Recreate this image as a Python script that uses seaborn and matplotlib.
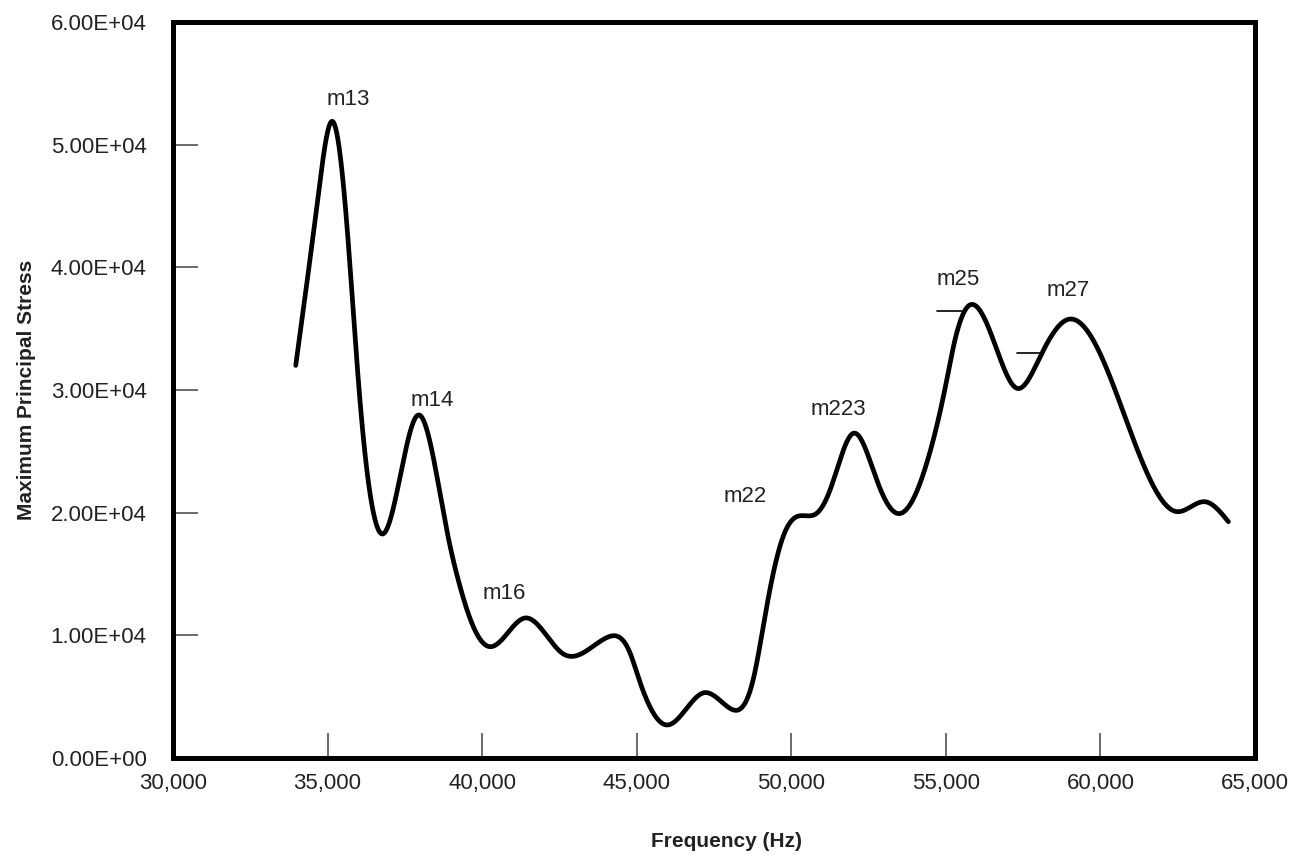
import numpy as np
import pandas as pd
import matplotlib
matplotlib.use("Agg")
import matplotlib.pyplot as plt
import seaborn as sns

# values
freq = [33970, 34680, 35150, 35620, 36020, 36780, 37935, 38855, 39285, 39715,
        40255, 41385, 42625, 44030, 44785, 45045, 45970, 47180, 47965, 48765,
        49205, 49735, 50175, 50825, 51255, 52010, 52765, 53410, 54380, 55030,
        55245, 55730, 56535, 57295, 58050, 58965, 59880, 60635, 61285, 62470,
        63385, 64140]
stress = [32000, 45500, 51900, 43600, 30000, 18260, 27960, 18590, 13970, 10700,
          9070, 11410, 8480, 9810, 8560, 6630, 2690, 5320, 4130, 6360,
          12330, 18040, 19670, 19950, 21850, 26470, 22660, 19950, 24020, 30820,
          33530, 36850, 34080, 30140, 32710, 35760, 33530, 28920, 24560, 20080,
          20890, 19260]

mode_names = ["m13", "m14", "m16", "m22", "m223", "m25", "m27"]
mode_x = [35670, 38370, 40710, 48500, 51520, 55400, 58960]
mode_y = [53640, 29130, 13430, 21300, 28370, 38970, 38100]

# short leader lines for m25 / m27
lead_x0 = [54725, 57295]
lead_x1 = [55515, 58050]
lead_y = [36460, 33040]

x_ticks = [30000, 35000, 40000, 45000, 50000, 55000, 60000, 65000]
y_ticks = [0, 10000, 20000, 30000, 40000, 50000, 60000]


def spline(x, y, xs):
    # natural cubic spline, only used to draw the smooth line through the points
    x = np.asarray(x, float)
    y = np.asarray(y, float)
    n = len(x)
    h = np.diff(x)
    A = np.zeros((n, n))
    r = np.zeros(n)
    A[0, 0] = A[-1, -1] = 1
    for i in range(1, n - 1):
        A[i, i - 1] = h[i - 1]
        A[i, i] = 2 * (h[i - 1] + h[i])
        A[i, i + 1] = h[i]
        r[i] = 6 * ((y[i + 1] - y[i]) / h[i] - (y[i] - y[i - 1]) / h[i - 1])
    M = np.linalg.solve(A, r)
    k = np.clip(np.searchsorted(x, xs) - 1, 0, n - 2)
    a = x[k + 1] - xs
    b = xs - x[k]
    hk = h[k]
    return (M[k] * a**3 / (6 * hk) + M[k + 1] * b**3 / (6 * hk)
            + (y[k] / hk - M[k] * hk / 6) * a + (y[k + 1] / hk - M[k + 1] * hk / 6) * b)


xs = np.linspace(freq[0], freq[-1], 2000)
df = pd.DataFrame({"freq": xs, "stress": spline(freq, stress, xs)})

sns.set_style("white")
plt.rcParams["font.family"] = ["Liberation Sans Narrow", "Liberation Sans", "DejaVu Sans"]

fig = plt.figure(figsize=(12.93, 8.55), dpi=100)
ax = fig.add_axes([0.1338, 0.1135, 0.8368, 0.8608])

sns.lineplot(data=df, x="freq", y="stress", color="black", linewidth=3.4, ax=ax)

for name, tx, ty in zip(mode_names, mode_x, mode_y):
    ax.text(tx, ty, name, ha="center", va="center", fontsize=16, color="#222222")
for a, b, yy in zip(lead_x0, lead_x1, lead_y):
    ax.plot([a, b], [yy, yy], color="black", linewidth=1.2)

ax.set_xlim(30000, 65000)
ax.set_ylim(0, 60000)
ax.set_xticks(x_ticks)
ax.set_xticklabels([f"{v:,}" for v in x_ticks])
ax.set_yticks(y_ticks)
ax.set_yticklabels([f"{v/1e4:.2f}E+04" if v else "0.00E+00" for v in y_ticks])

ax.tick_params(axis="both", direction="in", length=18, width=1.1, color="#444444",
               labelsize=16, labelcolor="#222222")
ax.tick_params(axis="y", pad=19, left=True)
ax.tick_params(axis="x", pad=11, bottom=True)

for s in ax.spines.values():
    s.set_visible(True)
    s.set_color("black")
    s.set_linewidth(3.6)

ax.set_xlabel("Frequency (Hz)", fontsize=15, fontweight="bold", color="#222222")
ax.set_ylabel("Maximum Principal Stress", fontsize=15, fontweight="bold", color="#222222")
ax.xaxis.set_label_coords(0.512, -0.101)
ax.yaxis.set_label_coords(-0.127, 0.5)

fig.savefig("out.png", dpi=100)
